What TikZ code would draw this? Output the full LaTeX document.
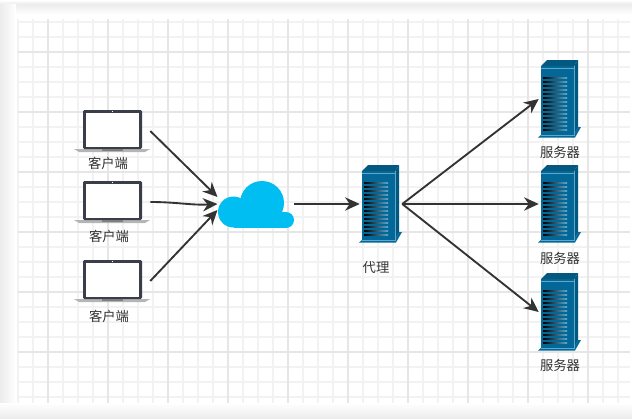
\documentclass[tikz,border=0pt]{standalone}
\usepackage{fontspec}
\setmainfont{Noto Sans CJK SC}
\usepackage{tikz}
\usetikzlibrary{arrows.meta}

\definecolor{gridminor}{HTML}{F2F2F2}
\definecolor{gridmajor}{HTML}{E6E6E6}
\definecolor{linkgray}{HTML}{333333}
\definecolor{cloudblue}{HTML}{00BEF2}
\definecolor{serverblue}{HTML}{036897}
\definecolor{serverlight}{HTML}{5FA8CC}
\definecolor{laptopdark}{HTML}{3A3D4A}
\definecolor{laptopbase}{HTML}{B5B5B5}
\definecolor{edgegray}{HTML}{ECECEC}

\tikzset{
  spot/.style={inner sep=0pt, minimum width=#1},
  link/.style={draw=linkgray, line width=1.4pt, -{Stealth[length=11pt, width=10pt]}},
  caption/.style={font=\fontsize{10pt}{10pt}\selectfont, text=linkgray, inner sep=0pt},
  laptopicon/.pic={
    \fill[laptopbase] (-38,18) -- (38,18) -- (33,21) -- (-33,21) -- cycle;
    \fill[laptopdark, rounded corners=1pt] (-29,-21) rectangle (30,18);
    \fill[white] (-26,-18) rectangle (27,15.5);
    \fill[white] (0.5,-19.5) circle (0.7);
    \fill[laptopbase!70!black] (-10,18) rectangle (11,19.5);
  },
  servericon/.pic={
    \fill[serverblue] (-22,38.5) -- (-19,36) -- (14,36) -- (18,28) -- (21,28) -- (15,38.5) -- cycle;
    \fill[serverblue] (-19,-33) -- (14,-33) -- (14,37) -- (-19,37) -- cycle;
    \fill[serverblue!85!black] (-19,-33) -- (-13,-39) -- (18,-39) -- (14,-33) -- cycle;
    \fill[serverblue!85!black] (14,-33) -- (18,-39) -- (18,28) -- (14,36) -- cycle;
    \draw[serverlight, line width=.5pt] (-19,-31) -- (14,-31) (14,-33) -- (14,36) -- (-19,36);
    \foreach \i in {0,...,13}
      \shade[left color=black, right color=serverlight] (-17,{-22+4*\i}) rectangle (7,{-22+4*\i+1.8});
  },
  cloudicon/.pic={
    \fill[cloudblue] (-22.5,8) circle (15.5);
    \fill[cloudblue] (6,-1) circle (22);
    \fill[cloudblue] (30,16) circle (8);
    \fill[cloudblue] (-22.5,8) rectangle (30,24);
  }
}

\begin{document}
\begin{tikzpicture}[x=0.75pt, y=-0.75pt]
\useasboundingbox (0,0) rectangle (632,418);

% Window edges
\shade[top color=white, bottom color=edgegray] (0,0) rectangle (632,4);
\shade[top color=edgegray, bottom color=white] (0,4) rectangle (632,15);
\shade[left color=edgegray, right color=white] (0,4) rectangle (16,403);
\shade[top color=white, bottom color=edgegray] (0,403) rectangle (632,418);

% Grid
\foreach \x in {18,33,...,618} \draw[gridminor, line width=.8pt] (\x,19) -- (\x,403);
\foreach \y in {22,37,...,397} \draw[gridminor, line width=.8pt] (18,\y) -- (630,\y);
\foreach \x in {48,108,...,588} \draw[gridmajor, line width=.8pt] (\x,19) -- (\x,403);
\foreach \y in {52,112,...,352} \draw[gridmajor, line width=.8pt] (18,\y) -- (630,\y);

% Clients
\node[spot=57pt, minimum height=31.5pt] (client1) at (112,131) {};
\node[spot=57pt, minimum height=31.5pt] (client2) at (112,202) {};
\node[spot=57pt, minimum height=31.5pt] (client3) at (112,281) {};
\pic at (client1) {laptopicon};
\pic at (client2) {laptopicon};
\pic at (client3) {laptopicon};
\node[caption] (label1) at (108,163) {客户端};
\node[caption] (label2) at (109,236) {客户端};
\node[caption] (label3) at (109,316) {客户端};

% Cloud
\node[spot=57pt, minimum height=35pt] (cloud) at (256,204) {};
\pic at (cloud) {cloudicon};
\coordinate (cloudin1) at (217.5,197);
\coordinate (cloudin2) at (217.5,204);
\coordinate (cloudin3) at (217.5,210);

% Proxy
\node[spot=31.5pt, minimum height=58.5pt] (proxy) at (381,204) {};
\pic at (proxy) {servericon};
\node[caption] (labelproxy) at (376,268) {代理};

% Servers
\node[spot=31.5pt, minimum height=58.5pt] (server1) at (560,99) {};
\node[spot=31.5pt, minimum height=58.5pt] (server2) at (560,204) {};
\node[spot=31.5pt, minimum height=58.5pt] (server3) at (560,312) {};
\pic at (server1) {servericon};
\pic at (server2) {servericon};
\pic at (server3) {servericon};
\node[caption] (labels1) at (560,152) {服务器};
\node[caption] (labels2) at (560,258) {服务器};
\node[caption] (labels3) at (560,365) {服务器};

% Edges
\draw[link] (client1.east) -- (cloudin1);
\draw[link] (client2.east) to[out=0, in=183] (cloudin2);
\draw[link] (client3.east) -- (cloudin3);
\draw[link] (cloud.east) -- (proxy.west);
\draw[link] (proxy.east) -- (server1.west);
\draw[link] (proxy.east) -- (server2.west);
\draw[link] (proxy.east) -- (server3.west);

\end{tikzpicture}
\end{document}
